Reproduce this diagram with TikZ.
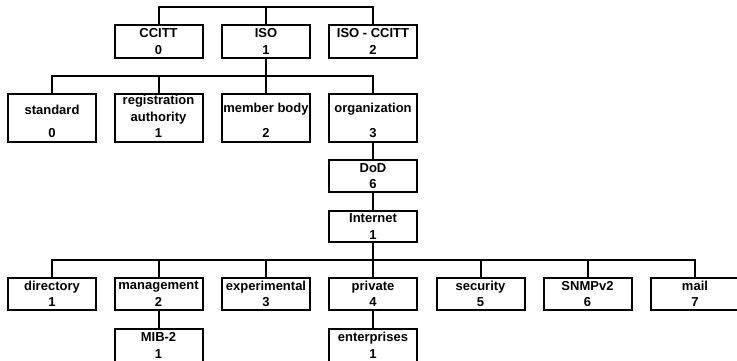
\documentclass[tikz,border=0pt]{standalone}
\usepackage{fontspec}
\setmainfont{Liberation Sans}
\begin{document}
\begin{tikzpicture}[x=1pt,y=-1pt,
  lab/.style={font=\bfseries\fontsize{13}{16.5}\selectfont},
  box/.style={draw, line width=2pt, minimum width=88pt, inner sep=0pt, align=center, lab},
  txt/.style={inner sep=0pt, align=center, lab},
  conn/.style={line width=2pt, line cap=rect}]
\fill[white] (0,0) rectangle (737,360);
\useasboundingbox (0,0) rectangle (737,360);
\clip (0,0) rectangle (737,360);
% top row
\node[box, minimum height=33pt] (cc) at (158.5,41.5) {CCITT\\0};
\node[box, minimum height=33pt] (iso) at (266,41.5) {ISO\\1};
\node[box, minimum height=33pt] (isocc) at (373,41.5) {ISO - CCITT\\2};
% second row
\node[box, minimum height=48pt] (std) at (52,118) {};
\node[box, minimum height=48pt] (reg) at (158.5,118) {};
\node[box, minimum height=48pt] (mem) at (266,118) {};
\node[box, minimum height=48pt] (org) at (373,118) {};
\node[txt] (stdt) at (52,109.5) {standard};
\node[txt] (regt) at (158.5,109.5) {registration\\authority};
\node[txt] (memt) at (266,109.5) {member body};
\node[txt] (orgt) at (373,109.5) {organization};
\node[txt] (stdn) at (52,133) {0};
\node[txt] (regn) at (158.5,133) {1};
\node[txt] (memn) at (266,133) {2};
\node[txt] (orgn) at (373,133) {3};
% chain
\node[box, minimum height=32pt] (dod) at (373,176) {DoD\\6};
\node[box, minimum height=31pt] (inet) at (373,226.5) {Internet\\1};
% fourth row
\node[box, minimum height=32pt] (dir) at (52,294) {directory\\1};
\node[box, minimum height=32pt] (mgmt) at (158.5,294) {management\\2};
\node[box, minimum height=32pt] (exp) at (266,294) {experimental\\3};
\node[box, minimum height=32pt] (priv) at (373,294) {private\\4};
\node[box, minimum height=32pt] (sec) at (480.5,294) {security\\5};
\node[box, minimum height=32pt] (snmp) at (587.5,294) {SNMPv2\\6};
\node[box, minimum height=32pt] (mail) at (695,294) {mail\\7};
% fifth row
\node[box, minimum height=33pt] (mib) at (158.5,345.5) {MIB-2\\1};
\node[box, minimum height=33pt] (ent) at (373,345.5) {enterprises\\1};
% junctions
\coordinate (j0) at (266,7);
\coordinate (j1) at (266,76);
\coordinate (j2) at (373,260);
% connectors
\draw[conn] (cc.north) |- (isocc.north |- j0) -- (isocc.north);
\draw[conn] (iso.north) -- (j0);
\draw[conn] (iso.south) -- (j1);
\draw[conn] (std.north) |- (org.north |- j1) -- (org.north);
\draw[conn] (reg.north) -- (reg.north |- j1);
\draw[conn] (mem.north) -- (j1);
\draw[conn] (org.south) -- (dod.north);
\draw[conn] (dod.south) -- (inet.north);
\draw[conn] (inet.south) -- (j2);
\draw[conn] (dir.north) |- (mail.north |- j2) -- (mail.north);
\draw[conn] (mgmt.north) -- (mgmt.north |- j2);
\draw[conn] (exp.north) -- (exp.north |- j2);
\draw[conn] (priv.north) -- (j2);
\draw[conn] (sec.north) -- (sec.north |- j2);
\draw[conn] (snmp.north) -- (snmp.north |- j2);
\draw[conn] (mgmt.south) -- (mib.north);
\draw[conn] (priv.south) -- (ent.north);
\end{tikzpicture}
\end{document}
